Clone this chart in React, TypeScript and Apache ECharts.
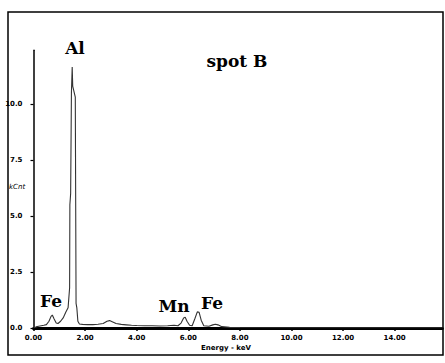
import React, { useEffect, useRef } from "react";
import * as echarts from "echarts";

const energy = [
  0.0, 0.1, 0.2, 0.3, 0.4, 0.5, 0.6, 0.68, 0.73, 0.8, 0.88, 0.95, 1.05, 1.15, 1.25, 1.34,
  1.4, 1.41, 1.44, 1.47, 1.5, 1.52, 1.62, 1.65, 1.68, 1.72, 1.78, 1.9, 2.1, 2.3, 2.5, 2.7,
  2.85, 2.95, 3.05, 3.2, 3.4, 3.6, 3.8, 4.0, 4.3, 4.6, 4.9, 5.2, 5.45, 5.6, 5.72, 5.82,
  5.88, 5.95, 6.05, 6.15, 6.25, 6.35, 6.42, 6.5, 6.6, 6.8, 6.95, 7.05, 7.15, 7.3, 7.6, 8.0,
  10.0, 12.0, 14.0, 15.85,
];
const counts = [
  0.0, 0.05, 0.08, 0.1, 0.12, 0.15, 0.3, 0.52, 0.58, 0.4, 0.22, 0.2, 0.3, 0.45, 0.7, 0.9,
  1.8, 5.5, 6.0, 10.5, 11.65, 10.8, 10.3, 1.1, 0.9, 0.3, 0.18, 0.16, 0.15, 0.15, 0.17, 0.2,
  0.3, 0.33, 0.28, 0.2, 0.16, 0.14, 0.12, 0.11, 0.1, 0.1, 0.09, 0.1, 0.12, 0.1, 0.22, 0.45,
  0.48, 0.3, 0.12, 0.1, 0.4, 0.72, 0.7, 0.35, 0.1, 0.08, 0.14, 0.17, 0.14, 0.06, 0.03, 0.02,
  0.01, 0.01, 0.01, 0.01,
];
const xTicks = [0, 2, 4, 6, 8, 10, 12, 14];
const yTicks = [0, 2.5, 5, 7.5, 10];
const peakLabels = [
  { text: "Al", x: 75, y: 48 },
  { text: "Fe", x: 51, y: 301 },
  { text: "Mn", x: 174, y: 306 },
  { text: "Fe", x: 212, y: 303 },
];
const title = "spot B";
const xName = "Energy - keV";
const yName = "kCnt";

export default function App() {
  const ref = useRef<HTMLDivElement>(null);
  useEffect(() => {
    const chart = echarts.init(ref.current!, null, { renderer: "svg" });
    const serif = "DejaVu Serif";
    const tickFont = { fontFamily: "DejaVu Sans", fontSize: 7, fontWeight: "bold" as const, color: "#000" };
    chart.setOption({
      animation: false,
      backgroundColor: "#fff",
      grid: { left: 33.5, right: 2.6, top: 50.2, bottom: 35, containLabel: false },
      xAxis: {
        type: "value",
        min: 0,
        max: 15.85,
        axisLine: { show: true, lineStyle: { color: "#000", width: 3 } },
        axisTick: { show: true, customValues: xTicks, length: 3, lineStyle: { color: "#000", width: 1.5 } },
        axisLabel: {
          show: true,
          customValues: xTicks,
          margin: 6,
          formatter: (v: number) => v.toFixed(2),
          ...tickFont,
        },
        splitLine: { show: false },
      },
      yAxis: {
        type: "value",
        min: 0,
        max: 12.4,
        axisLine: { show: true, lineStyle: { color: "#000", width: 1.5 } },
        axisTick: { show: true, customValues: yTicks, length: 3, lineStyle: { color: "#000", width: 1.2 } },
        axisLabel: {
          show: true,
          customValues: yTicks,
          margin: 11,
          formatter: (v: number) => v.toFixed(1),
          ...tickFont,
        },
        splitLine: { show: false },
      },
      series: [
        {
          type: "line",
          data: energy.map((e, i) => [e, counts[i]]),
          showSymbol: false,
          lineStyle: { color: "#333", width: 1.1 },
          z: 1,
        },
      ],
      graphic: [
        {
          type: "rect",
          shape: { x: 8, y: 12, width: 435, height: 343 },
          style: { fill: "none", stroke: "#000", lineWidth: 1.5 },
          z: 0,
        },
        {
          type: "text",
          x: 237,
          y: 61,
          style: { text: title, font: `bold 17px "${serif}"`, fill: "#000", align: "center", verticalAlign: "middle" },
        },
        ...peakLabels.map((p) => ({
          type: "text",
          x: p.x,
          y: p.y,
          style: { text: p.text, font: `bold 17px "${serif}"`, fill: "#000", align: "center", verticalAlign: "middle" },
        })),
        {
          type: "text",
          x: 226,
          y: 348,
          style: { text: xName, font: `bold 7px "DejaVu Sans"`, fill: "#000", align: "center", verticalAlign: "middle" },
        },
        {
          type: "text",
          x: 9,
          y: 187,
          style: { text: yName, font: `italic 7px "DejaVu Sans"`, fill: "#000", align: "left", verticalAlign: "middle" },
        },
      ],
    });
    return () => chart.dispose();
  }, []);
  return <div ref={ref} style={{ position: "absolute", left: 0, top: 0, width: 445, height: 363 }} />;
}
